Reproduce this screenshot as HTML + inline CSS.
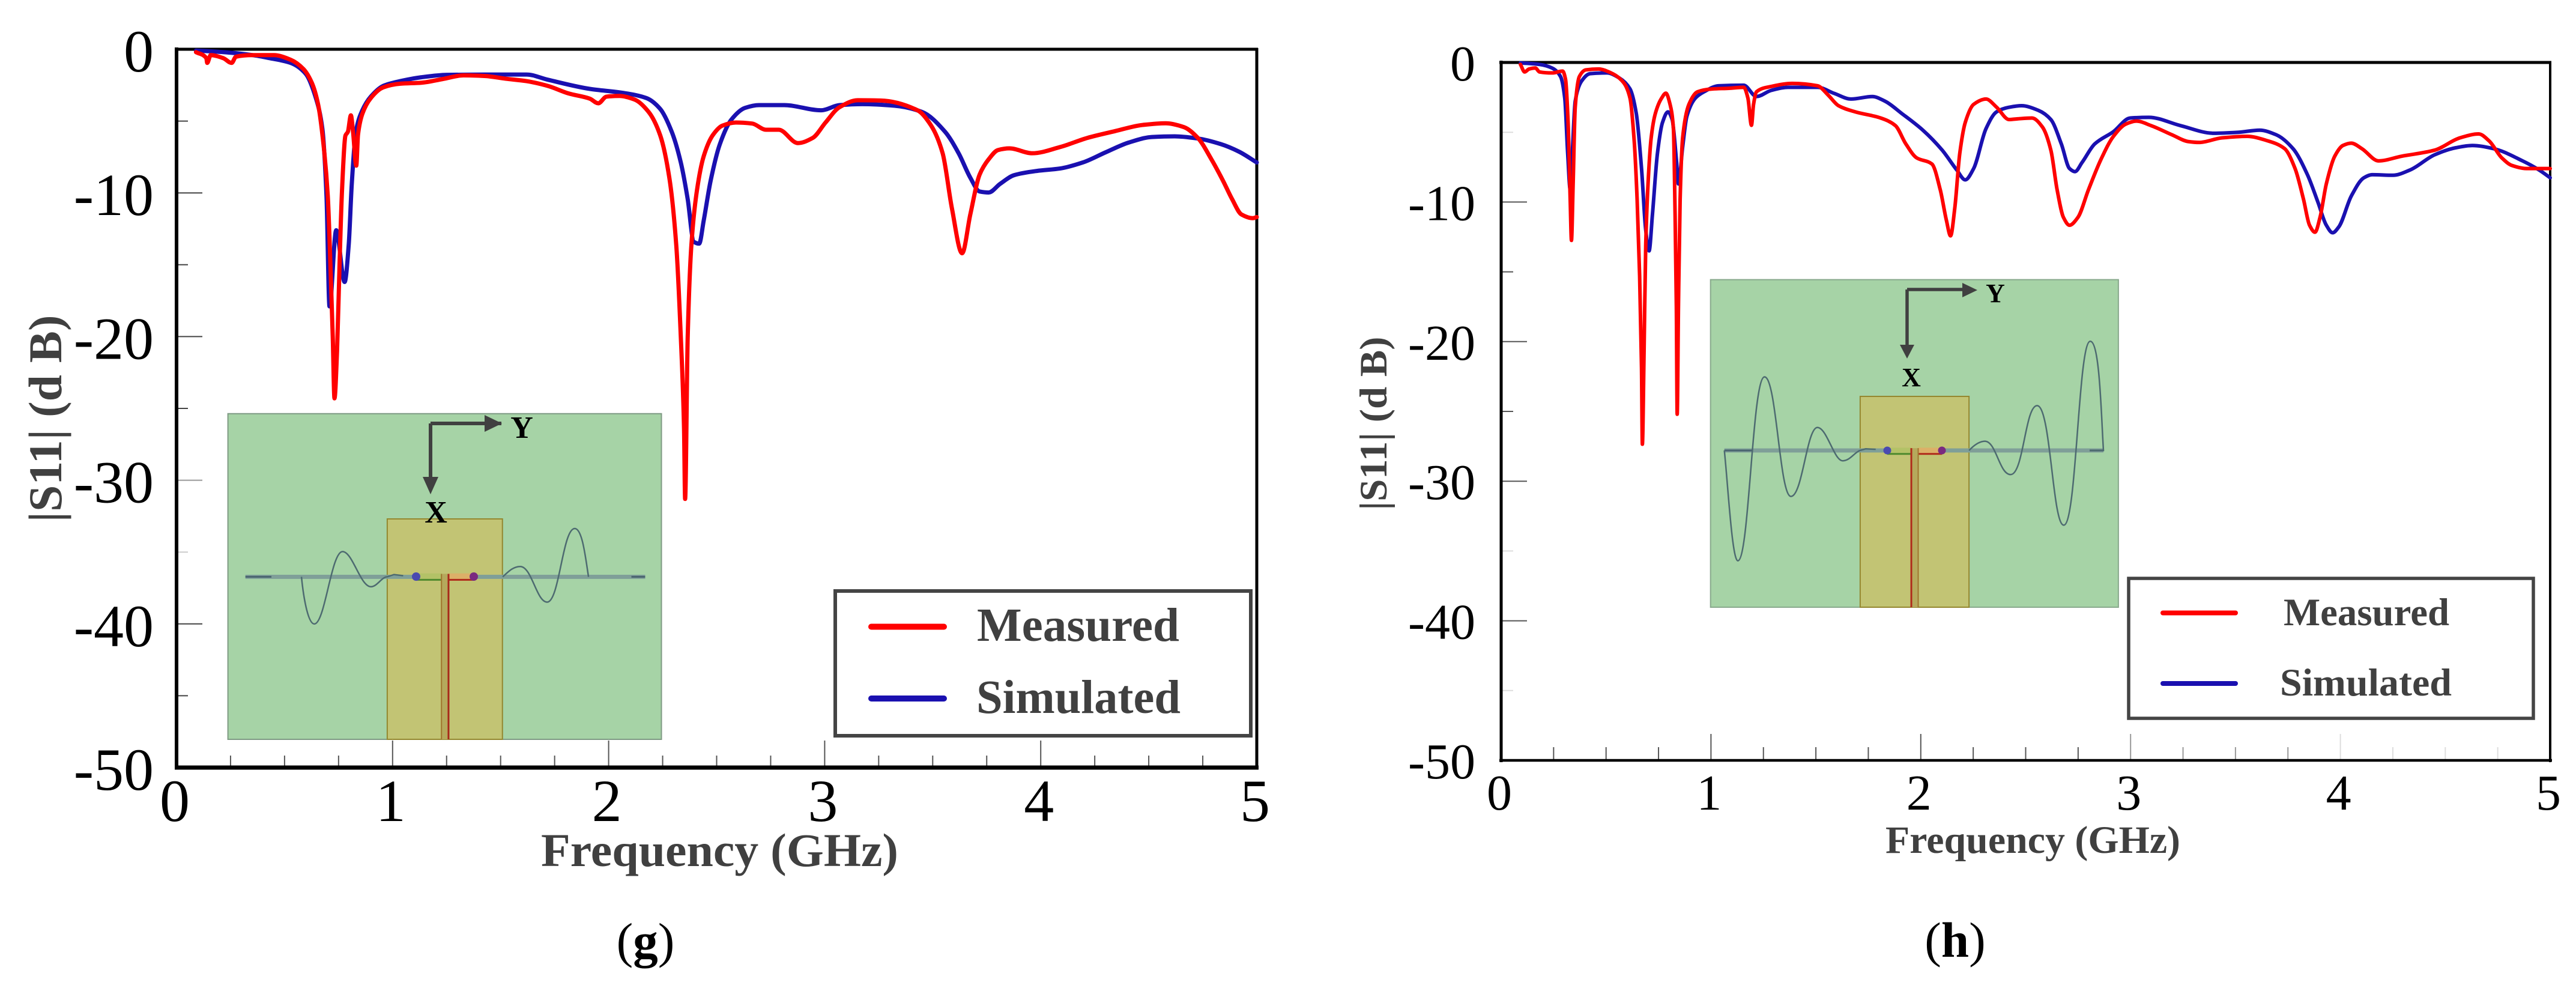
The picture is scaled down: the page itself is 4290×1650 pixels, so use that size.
<!DOCTYPE html>
<html lang="en">
<head>
<meta charset="utf-8">
<title>S11 measured vs simulated</title>
<style>
html,body{margin:0;padding:0;background:#fff;width:4290px;height:1650px;overflow:hidden}
svg{display:block}
text{font-family:"Liberation Serif",serif}
.ttl{font-weight:bold;fill:#404040}
.w{fill:none;stroke:#4d6a70;stroke-width:2.5;vector-effect:non-scaling-stroke}
.ns{vector-effect:non-scaling-stroke}
</style>
</head>
<body>
<svg id="root" xmlns="http://www.w3.org/2000/svg" width="4290" height="1650" viewBox="0 0 4290 1650">
<rect width="4290" height="1650" fill="#fff"/>

<g id="chart-g"></g>
<g id="chart-h"></g>

<!-- inset g -->
<g id="inset-g">
  <g transform="translate(350,660) scale(0.5102,0.3827)">
    <rect x="58" y="75" width="1415" height="1417" fill="#a6d3a6" stroke="#7f9a84" stroke-width="2" class="ns"/>
    <rect x="578" y="533" width="376" height="959" fill="#c2c474" stroke="#94872f" stroke-width="2" class="ns"/>
    <rect x="115" y="776" width="1305" height="18" fill="#7f9f98"/>
    <path class="ns" d="M115,785H200M1375,785H1420" stroke="#4a6470" stroke-width="3" fill="none"/>
    <rect x="672" y="770" width="85" height="28" fill="#b3c267"/>
    <rect x="778" y="770" width="82" height="28" fill="#dcb068"/>
    <path class="ns" d="M672,798H757" stroke="#4f8a2e" stroke-width="3" fill="none"/>
    <path class="ns" d="M778,798H862" stroke="#b02a1a" stroke-width="3" fill="none"/>
    <rect x="755" y="772" width="23" height="720" fill="#b5a95c"/>
    <path class="ns" d="M755,772V1492" stroke="#a0762e" stroke-width="2" fill="none"/>
    <path class="ns" d="M778,772V1492" stroke="#a8291a" stroke-width="3" fill="none"/>
    <path class="w" d="M298,785 C305,880 320,990 340,990 C375,990 395,675 432,675 C465,675 490,828 525,828 C545,828 560,785 578,785 L600,775 L630,780"/>
    <path class="w" d="M955,785 C975,760 990,740 1012,740 C1050,740 1065,895 1100,895 C1140,895 1150,575 1190,575 C1215,575 1225,700 1235,785"/>
  </g>
  <circle cx="693" cy="960" r="7" fill="#4a4ab0"/>
  <circle cx="789" cy="960" r="7" fill="#7a2a80"/>
  <path d="M717,705V800M835,705H717" stroke="#404040" stroke-width="6" fill="none"/>
  <path d="M704,794H730L717,823Z" fill="#404040"/>
  <path d="M807,691V719L836,705Z" fill="#404040"/>
  <text x="869" y="729" font-size="52" font-weight="bold" text-anchor="middle" fill="#000">Y</text>
  <text x="726" y="870" font-size="52" font-weight="bold" text-anchor="middle" fill="#000">X</text>
</g>

<!-- inset h -->
<g id="inset-h">
  <g transform="translate(2820,440) scale(0.4783,0.3827)">
    <rect x="60" y="67" width="1420" height="1425" fill="#a6d3a6" stroke="#88a98c" stroke-width="2" class="ns"/>
    <rect x="581" y="575" width="379" height="917" fill="#c2c474" stroke="#94872f" stroke-width="2" class="ns"/>
    <rect x="108" y="801" width="1320" height="18" fill="#7f9f98"/>
    <path class="ns" d="M108,810H205M1380,810H1428" stroke="#4a6470" stroke-width="3" fill="none"/>
    <rect x="675" y="798" width="84" height="27" fill="#b3c267"/>
    <rect x="783" y="798" width="82" height="27" fill="#dcb068"/>
    <path class="ns" d="M675,825H759" stroke="#4f8a2e" stroke-width="3" fill="none"/>
    <path class="ns" d="M781,825H866" stroke="#b02a1a" stroke-width="3" fill="none"/>
    <rect x="758" y="800" width="25" height="692" fill="#b5a95c"/>
    <path class="ns" d="M759,800V1492" stroke="#b02a1a" stroke-width="3" fill="none"/>
    <path class="ns" d="M783,800V1492" stroke="#a0762e" stroke-width="2" fill="none"/>
    <path class="w" d="M108,810 C120,950 135,1290 155,1290 C195,1290 205,490 248,490 C290,490 300,1010 340,1010 C380,1010 395,710 432,710 C465,710 490,855 520,855 C545,855 560,820 580,810 L600,803 L635,805"/>
    <path class="w" d="M960,810 C975,790 995,770 1015,770 C1055,770 1065,915 1105,915 C1150,915 1155,615 1197,615 C1245,615 1250,1135 1290,1135 C1335,1135 1340,335 1382,335 C1415,335 1420,650 1428,810 L1380,810"/>
  </g>
  <circle cx="3143" cy="750" r="6.5" fill="#4a4ab0"/>
  <circle cx="3234" cy="750" r="6.5" fill="#7a2a80"/>
  <path d="M3176,482V578M3272,482H3176" stroke="#404040" stroke-width="5.5" fill="none"/>
  <path d="M3164,574H3188L3176,597Z" fill="#404040"/>
  <path d="M3268,471V495L3293,483Z" fill="#404040"/>
  <text x="3323" y="503" font-size="44" font-weight="bold" text-anchor="middle" fill="#000">Y</text>
  <text x="3183" y="643" font-size="44" font-weight="bold" text-anchor="middle" fill="#000">X</text>
</g>

<!-- legends -->
<g>
  <rect x="1391" y="984" width="692" height="241" fill="#fff" stroke="#444" stroke-width="6"/>
  <line x1="1451" y1="1043.5" x2="1572" y2="1043.5" stroke="#ff0000" stroke-width="10" stroke-linecap="round"/>
  <line x1="1451" y1="1163" x2="1572" y2="1163" stroke="#1a10b0" stroke-width="10" stroke-linecap="round"/>
  <text class="ttl" x="1627" y="1067" font-size="79" textLength="337" lengthAdjust="spacingAndGlyphs">Measured</text>
  <text class="ttl" x="1626" y="1187" font-size="79" textLength="340" lengthAdjust="spacingAndGlyphs">Simulated</text>
</g>
<g>
  <rect x="3545" y="963" width="674" height="233" fill="#fff" stroke="#444" stroke-width="5.5"/>
  <line x1="3602" y1="1020.5" x2="3723" y2="1020.5" stroke="#ff0000" stroke-width="8" stroke-linecap="round"/>
  <line x1="3602" y1="1138" x2="3723" y2="1138" stroke="#1a10b0" stroke-width="8" stroke-linecap="round"/>
  <text class="ttl" x="3803" y="1041" font-size="65" textLength="276" lengthAdjust="spacingAndGlyphs">Measured</text>
  <text class="ttl" x="3797" y="1158" font-size="65" textLength="286" lengthAdjust="spacingAndGlyphs">Simulated</text>
</g>

<!-- captions -->
<text x="1075" y="1594" font-size="83" text-anchor="middle" fill="#000">(<tspan font-weight="bold">g</tspan>)</text>
<text x="3256" y="1593" font-size="83" text-anchor="middle" fill="#000">(<tspan font-weight="bold">h</tspan>)</text>
</svg>

<script>
// ---- shared tick labels ----
var xTickValues = [0, 1, 2, 3, 4, 5];
var yTickValues = [0, -10, -20, -30, -40, -50];
var xMinorTickValues = [0.25,0.5,0.75,1.25,1.5,1.75,2.25,2.5,2.75,3.25,3.5,3.75,4.25,4.5,4.75];
var yMinorTickValues = [-5,-15,-25,-35,-45];

// ---- chart (g) data ----
var gMeasuredFreq = [0.09,0.138,0.142,0.158,0.216,0.255,0.275,0.353,0.45,0.528,0.587,0.626,0.655,0.68,0.70,0.714,0.723,0.731,0.743,0.755,0.766,0.782,0.793,0.807,0.817,0.832,0.84,0.86,0.899,0.957,1.035,1.133,1.23,1.328,1.425,1.523,1.62,1.718,1.815,1.913,1.952,1.99,2.05,2.12,2.185,2.238,2.281,2.313,2.334,2.349,2.354,2.366,2.383,2.409,2.44,2.483,2.526,2.589,2.664,2.728,2.787,2.876,2.945,3.004,3.068,3.153,3.259,3.43,3.493,3.546,3.589,3.636,3.674,3.717,3.759,3.802,3.855,3.961,4.089,4.216,4.344,4.471,4.578,4.663,4.727,4.79,4.844,4.886,4.929,4.982,5];
var gMeasuredDb = [-0.2,-0.62,-0.95,-0.41,-0.62,-0.95,-0.52,-0.41,-0.41,-0.73,-1.37,-2.33,-3.82,-6.6,-10.2,-15.8,-20,-24.3,-21,-14.7,-9.8,-6,-5.75,-4.6,-5.75,-8.1,-5.95,-4.5,-3.4,-2.65,-2.4,-2.33,-2.08,-1.82,-1.86,-2.05,-2.22,-2.55,-3.08,-3.44,-3.76,-3.3,-3.25,-3.5,-4.36,-5.96,-8.95,-13.64,-20,-26.4,-31.3,-20,-13.64,-9.8,-7.45,-5.96,-5.32,-5.1,-5.17,-5.6,-5.6,-6.53,-6.17,-5.1,-4.04,-3.55,-3.57,-4.25,-5.32,-7.24,-11.08,-14.2,-11.5,-8.73,-7.66,-7.02,-6.9,-7.24,-6.81,-6.17,-5.7,-5.27,-5.15,-5.42,-6.17,-7.66,-9.16,-10.44,-11.5,-11.76,-11.68];
var gSimulatedFreq = [0.09,0.216,0.353,0.431,0.528,0.597,0.645,0.675,0.694,0.708,0.739,0.778,0.797,0.811,0.83,0.86,0.899,0.957,1.035,1.133,1.25,1.425,1.62,1.718,1.913,2.068,2.175,2.238,2.292,2.334,2.366,2.394,2.419,2.44,2.472,2.515,2.568,2.632,2.696,2.813,2.983,3.068,3.174,3.323,3.45,3.557,3.62,3.674,3.717,3.759,3.812,3.876,3.982,4.089,4.195,4.301,4.408,4.514,4.62,4.727,4.833,4.918,5];
var gSimulatedDb = [-0.09,-0.2,-0.41,-0.62,-0.95,-1.69,-3.4,-5.53,-10.2,-17.9,-12.6,-16.2,-13.6,-9.4,-5.75,-4.25,-3.3,-2.55,-2.22,-1.95,-1.78,-1.76,-1.76,-2.12,-2.76,-3.04,-3.4,-4.14,-5.74,-7.88,-10.44,-13.4,-13.53,-11.93,-9.16,-6.6,-4.9,-4.08,-3.89,-3.89,-4.25,-3.89,-3.82,-3.93,-4.36,-5.74,-7.24,-8.94,-9.9,-9.97,-9.37,-8.77,-8.47,-8.3,-7.88,-7.17,-6.49,-6.11,-6.06,-6.21,-6.6,-7.13,-7.88];

// ---- chart (h) data ----
var hMeasuredFreq = [0.092,0.112,0.133,0.163,0.183,0.243,0.293,0.307,0.319,0.329,0.335,0.343,0.353,0.373,0.404,0.464,0.524,0.584,0.614,0.634,0.648,0.66,0.669,0.673,0.681,0.689,0.7,0.715,0.735,0.765,0.785,0.805,0.821,0.829,0.835,0.839,0.845,0.853,0.865,0.895,0.936,1.006,1.086,1.156,1.176,1.193,1.203,1.217,1.287,1.387,1.508,1.558,1.608,1.688,1.809,1.879,1.929,1.98,2.053,2.093,2.122,2.142,2.162,2.186,2.212,2.252,2.311,2.361,2.421,2.461,2.53,2.58,2.62,2.65,2.68,2.709,2.749,2.799,2.859,2.918,2.978,3.028,3.097,3.197,3.276,3.326,3.436,3.555,3.655,3.734,3.784,3.824,3.853,3.879,3.903,3.933,3.973,4.012,4.052,4.102,4.182,4.291,4.45,4.57,4.659,4.709,4.769,4.818,4.888,5];
var hMeasuredDb = [-0.14,-0.68,-0.47,-0.4,-0.68,-0.75,-0.62,-1.23,-4.3,-9.8,-12.75,-8.7,-3.2,-1,-0.53,-0.47,-0.75,-1.45,-2.55,-5.6,-9.8,-15.3,-21.9,-27.35,-20.8,-13.1,-8.7,-5.4,-3.65,-2.55,-2.2,-3,-4.75,-10.9,-17.5,-25.2,-17.5,-9.8,-5.4,-3,-2.1,-1.9,-1.85,-1.78,-2.55,-4.5,-3,-2.1,-1.72,-1.5,-1.67,-2.33,-3.1,-3.54,-3.98,-4.52,-5.84,-6.83,-7.27,-9.13,-11.3,-12.42,-10.45,-6.5,-4.3,-3,-2.62,-3.2,-4.09,-4.04,-3.98,-4.63,-6.28,-9.13,-11.1,-11.66,-11.1,-9.13,-6.94,-5.3,-4.41,-4.2,-4.52,-5.18,-5.67,-5.73,-5.4,-5.29,-5.62,-6.17,-7.6,-9.79,-11.66,-12.16,-11.1,-8.7,-6.72,-5.95,-5.78,-6.17,-7.05,-6.72,-6.28,-5.4,-5.12,-5.62,-6.83,-7.38,-7.6,-7.6];
var hSimulatedFreq = [0.092,0.183,0.243,0.283,0.303,0.317,0.329,0.339,0.353,0.383,0.424,0.504,0.564,0.614,0.644,0.669,0.689,0.705,0.721,0.745,0.769,0.795,0.815,0.835,0.845,0.865,0.885,0.926,0.966,1.036,1.156,1.217,1.287,1.367,1.508,1.588,1.668,1.769,1.829,1.909,2.01,2.102,2.172,2.212,2.252,2.311,2.361,2.421,2.48,2.56,2.62,2.67,2.709,2.735,2.769,2.829,2.918,2.998,3.087,3.237,3.396,3.515,3.615,3.694,3.774,3.843,3.893,3.933,3.963,3.993,4.052,4.112,4.152,4.251,4.331,4.45,4.55,4.629,4.729,4.868,4.948,5];
var hSimulatedDb = [-0.03,-0.14,-0.4,-1.01,-2.55,-6.5,-9.1,-6.5,-2.77,-1.34,-0.8,-0.75,-1.12,-1.89,-3.65,-7.6,-12,-13.5,-10.9,-6.5,-4.3,-3.54,-4.09,-6.94,-8.7,-6.06,-3.87,-2.55,-2.11,-1.67,-1.63,-2.44,-2,-1.78,-1.78,-2.22,-2.62,-2.44,-2.77,-3.65,-4.85,-6.28,-7.71,-8.41,-7.6,-4.74,-3.54,-3.21,-3.1,-3.43,-4.09,-5.84,-7.6,-7.82,-7.16,-5.84,-4.96,-3.98,-3.93,-4.52,-5.07,-5,-4.85,-5.18,-6.17,-8.04,-10.01,-11.66,-12.2,-11.77,-9.57,-8.26,-8.04,-8.08,-7.71,-6.61,-6.11,-5.95,-6.17,-7.05,-7.71,-8.26];

var SVGNS = 'http://www.w3.org/2000/svg';

function mk(parent, tag, attrs) {
  var el = document.createElementNS(SVGNS, tag);
  for (var k in attrs) el.setAttribute(k, attrs[k]);
  parent.appendChild(el);
  return el;
}

// Monotone cubic path through the scaled points, so peaks do not overshoot.
function smoothPath(xs, ys) {
  var n = xs.length, h = [], s = [], m = [], i;
  for (i = 0; i < n - 1; i++) {
    h[i] = xs[i + 1] - xs[i];
    s[i] = (ys[i + 1] - ys[i]) / h[i];
  }
  m[0] = s[0];
  m[n - 1] = s[n - 2];
  for (i = 1; i < n - 1; i++) {
    if (s[i - 1] * s[i] <= 0) {
      m[i] = 0;
    } else {
      m[i] = 3 * (h[i - 1] + h[i]) / ((2 * h[i] + h[i - 1]) / s[i - 1] + (h[i] + 2 * h[i - 1]) / s[i]);
    }
  }
  var d = 'M' + xs[0].toFixed(1) + ',' + ys[0].toFixed(1);
  for (i = 0; i < n - 1; i++) {
    d += ' C' + (xs[i] + h[i] / 3).toFixed(2) + ',' + (ys[i] + m[i] * h[i] / 3).toFixed(2) +
         ' ' + (xs[i + 1] - h[i] / 3).toFixed(2) + ',' + (ys[i + 1] - m[i + 1] * h[i] / 3).toFixed(2) +
         ' ' + xs[i + 1].toFixed(2) + ',' + ys[i + 1].toFixed(2);
  }
  return d;
}

function drawChart(opts) {
  var g = document.getElementById(opts.id);
  var L = opts.left, R = opts.right, T = opts.top, B = opts.bottom;
  function xScale(f) { return L + (f / 5) * (R - L); }
  function yScale(db) { return T + (-db / 50) * (B - T); }

  // ticks
  xTickValues.forEach(function (v) {
    if (v === 0 || v === 5) return;
    var t = mk(g, 'line', {x1: xScale(v), x2: xScale(v), y1: B, y2: B - opts.xMajor, stroke: opts.xTickColor(v), 'stroke-width': 2});
    
    
  });
  xMinorTickValues.forEach(function (v) {
    var t = mk(g, 'line', {x1: xScale(v), x2: xScale(v), y1: B, y2: B - opts.xMinor, stroke: opts.xTickColor(v), 'stroke-width': 2});
    
    
  });
  yTickValues.forEach(function (v) {
    if (v === 0 || v === -50) return;
    var t = mk(g, 'line', {x1: L, x2: L + opts.yMajor, y1: yScale(v), y2: yScale(v), stroke: opts.yTickColor(v), 'stroke-width': 2});
    
    
  });
  yMinorTickValues.forEach(function (v) {
    var t = mk(g, 'line', {x1: L, x2: L + opts.yMinor, y1: yScale(v), y2: yScale(v), stroke: opts.yTickColor(v), 'stroke-width': 2});
    
    
  });

  // frame
  var fl = mk(g, 'line', {x1: L, x2: L, y1: T - 3, y2: B + 3, stroke: '#000', 'stroke-width': opts.wLeft});
  
  
  var fb = mk(g, 'line', {x1: L - 3, x2: R + 3, y1: B, y2: B, stroke: '#000', 'stroke-width': opts.wBottom});
  
  
  var ft = mk(g, 'line', {x1: L - 3, x2: R + 2, y1: T, y2: T, stroke: '#000', 'stroke-width': opts.wTop});
  
  
  var fr = mk(g, 'line', {x1: R, x2: R, y1: T - 2, y2: B + 3, stroke: '#000', 'stroke-width': opts.wRight});
  
  

  // tick labels
  xTickValues.forEach(function (v) {
    var t = mk(g, 'text', {x: xScale(v) - opts.xLabelShift, y: opts.xLabelBaseline, 'font-size': opts.fontSize, 'text-anchor': 'middle', fill: '#000'});
    
    
    t.textContent = String(v);
  });
  yTickValues.forEach(function (v) {
    var t = mk(g, 'text', {x: L - opts.yLabelGap, y: yScale(v) + opts.yLabelShift, 'font-size': opts.fontSize, 'text-anchor': 'end', fill: '#000'});
    
    
    t.textContent = String(v);
  });

  // axis titles
  var xt = mk(g, 'text', {x: opts.xTitleX, y: opts.xTitleY, 'font-size': opts.titleSize, 'class': 'ttl', textLength: opts.xTitleLen, lengthAdjust: 'spacingAndGlyphs'});
  
  
  xt.textContent = 'Frequency (GHz)';
  var yt = mk(g, 'text', {transform: 'translate(' + opts.yTitleX + ',' + opts.yTitleY + ') rotate(-90)', 'font-size': opts.titleSize, 'class': 'ttl', 'text-anchor': 'middle', textLength: opts.yTitleLen, lengthAdjust: 'spacingAndGlyphs'});
  
  
  yt.textContent = '|S11| (d B)';

  // series
  function linePath(fs, dbs) {
    return smoothPath(fs.map(xScale), dbs.map(yScale));
  }
  var sim = mk(g, 'path', {d: linePath(opts.simF, opts.simD), fill: 'none', stroke: '#1a10b0', 'stroke-width': opts.lineW, 'stroke-linejoin': 'round', 'stroke-linecap': 'round'});
  
  
  var mea = mk(g, 'path', {d: linePath(opts.meaF, opts.meaD), fill: 'none', stroke: '#ff0000', 'stroke-width': opts.lineW, 'stroke-linejoin': 'round', 'stroke-linecap': 'round'});
  
  
}

drawChart({
  id: 'chart-g', left: 294, right: 2093, top: 82, bottom: 1278,
  xMajor: 45, xMinor: 20, yMajor: 43, yMinor: 19,
  xTickColor: function () { return '#555'; },
  yTickColor: function (v) { return v === -35 ? '#ccc' : (v === -30 ? '#999' : '#444'); },
  wLeft: 6, wTop: 5, wRight: 5, wBottom: 7,
  fontSize: 100, xLabelShift: 3, xLabelBaseline: 1367, yLabelGap: 38, yLabelShift: 37,
  titleSize: 78, xTitleX: 901, xTitleY: 1442, xTitleLen: 595,
  yTitleX: 102, yTitleY: 697, yTitleLen: 345, lineW: 7,
  simF: gSimulatedFreq, simD: gSimulatedDb, meaF: gMeasuredFreq, meaD: gMeasuredDb
});

drawChart({
  id: 'chart-h', left: 2500, right: 4247, top: 104, bottom: 1266,
  xMajor: 44, xMinor: 22, yMajor: 43, yMinor: 20,
  xTickColor: function (v) { return v < 3 ? '#555' : (v < 4 ? '#999' : '#ddd'); },
  yTickColor: function (v) { return (v === -5 || v === -35 || v === -45) ? '#ddd' : '#555'; },
  wLeft: 5, wTop: 5, wRight: 4, wBottom: 4.5,
  fontSize: 84, xLabelShift: 3, xLabelBaseline: 1348, yLabelGap: 43, yLabelShift: 30,
  titleSize: 65, xTitleX: 3140, xTitleY: 1420, xTitleLen: 491,
  yTitleX: 2309, yTitleY: 705, yTitleLen: 289, lineW: 6,
  simF: hSimulatedFreq, simD: hSimulatedDb, meaF: hMeasuredFreq, meaD: hMeasuredDb
});

// keep the charts beneath the insets and legends
var root = document.getElementById('root');
['chart-g', 'chart-h'].forEach(function (id) {
  var el = document.getElementById(id);
  root.insertBefore(el, root.children[1]);
});
</script>
</body>
</html>
